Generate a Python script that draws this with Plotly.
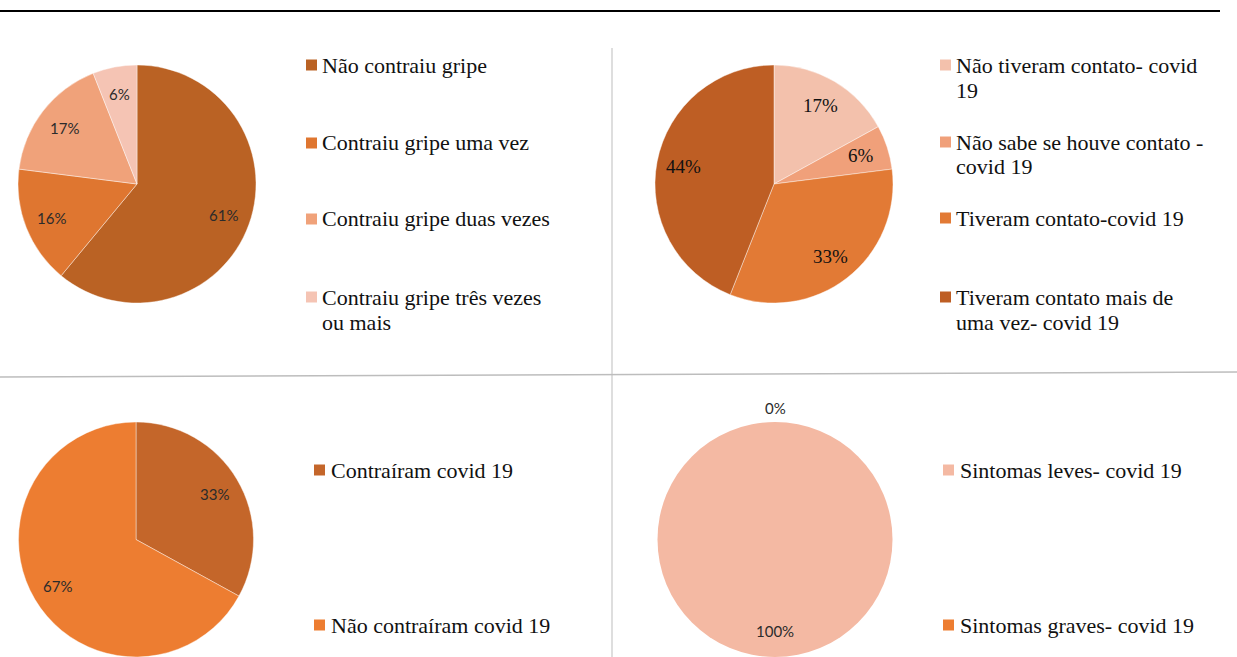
import math
import plotly.graph_objects as go

W, H = 1237, 657

# ---- data ----
gripe_labels = ["Não contraiu gripe", "Contraiu gripe uma vez",
                "Contraiu gripe duas vezes", "Contraiu gripe três vezes<br>ou mais"]
gripe_values = [61, 16, 17, 6]
gripe_colors = ["#BA6224", "#DF7630", "#F0A27A", "#F5C4B4"]

contato_labels = ["Não tiveram contato- covid<br>19", "Não sabe se houve contato -<br>covid 19",
                  "Tiveram contato-covid 19", "Tiveram contato mais de<br>uma vez- covid 19"]
contato_values = [17, 6, 33, 44]
contato_colors = ["#F3C1AC", "#F0A07A", "#E27A35", "#BE5E24"]

contraiu_labels = ["Contraíram covid 19", "Não contraíram covid 19"]
contraiu_values = [33, 67]
contraiu_colors = ["#C4662A", "#ED7D31"]

sintomas_labels = ["Sintomas leves- covid 19", "Sintomas graves- covid 19"]
sintomas_values = [100, 0]
sintomas_colors = ["#F4B9A3", "#ED7D31"]


def px(x):
    return x / W


def py(y):
    return 1 - y / H


def dom(cx, cy, r):
    return dict(x=[px(cx - r), px(cx + r)], y=[max(0, py(cy + r)), min(1, py(cy - r))])


SANS = "Lato, sans-serif"
SERIF = "Liberation Serif, Times New Roman, serif"

fig = go.Figure()
shapes = []
annotations = []


def add_pie(labels, values, colors, cx, cy, r, font, line_w=0.6):
    fig.add_trace(go.Pie(
        labels=labels, values=values, sort=False, direction="clockwise", rotation=0,
        marker=dict(colors=colors, line=dict(color="rgba(255,255,255,0.7)", width=line_w)),
        textinfo="none", showlegend=False, domain=dom(cx, cy, r),
        hoverinfo="label+percent",
    ))
    # percentage labels along each slice's middle angle
    total = sum(values)
    start = 0.0
    for v in values:
        frac = v / total
        mid = 2 * math.pi * (start + frac / 2)
        k = 0.77 * r if v > 0 else r + 14
        annotations.append(dict(
            x=px(cx + k * math.sin(mid)), y=py(cy - k * math.cos(mid)),
            xref="paper", yref="paper", text=f"{v}%", showarrow=False,
            xanchor="center", yanchor="middle", font=font))
        start += frac


add_pie(gripe_labels, gripe_values, gripe_colors, 137, 184, 119,
        dict(family=SANS, size=15, color="#2b2b2b"))
add_pie(contato_labels, contato_values, contato_colors, 774, 184, 119,
        dict(family=SERIF, size=19, color="#111111"))
add_pie(contraiu_labels, contraiu_values, contraiu_colors, 136, 540, 118,
        dict(family=SANS, size=15, color="#2b2b2b"))
add_pie(sintomas_labels, sintomas_values, sintomas_colors, 775, 540, 118,
        dict(family=SANS, size=15, color="#2b2b2b"), line_w=0)


def add_legend(labels, colors, sq_x, text_x, ys, line_gap=25):
    for lab, col, yc in zip(labels, colors, ys):
        shapes.append(dict(type="rect", xref="paper", yref="paper",
                           x0=px(sq_x), x1=px(sq_x + 11), y0=py(yc + 5.5), y1=py(yc - 5.5),
                           fillcolor=col, line=dict(width=0)))
        for i, part in enumerate(lab.split("<br>")):
            annotations.append(dict(x=px(text_x), y=py(yc + i * line_gap),
                                    xref="paper", yref="paper",
                                    xanchor="left", yanchor="middle", align="left",
                                    text=part, showarrow=False,
                                    font=dict(family=SERIF, size=22, color="#111111")))


add_legend(gripe_labels, gripe_colors, 306, 320, [65, 143, 219, 297])
add_legend(contato_labels, contato_colors, 940, 954, [65, 142, 218, 297])
add_legend(contraiu_labels, contraiu_colors, 314, 329, [470, 625])
add_legend(sintomas_labels, sintomas_colors, 943, 958, [470, 625])

# frame lines
shapes.append(dict(type="line", xref="paper", yref="paper",
                   x0=0, x1=px(1220), y0=py(11), y1=py(11),
                   line=dict(color="#000000", width=2)))
shapes.append(dict(type="line", xref="paper", yref="paper",
                   x0=px(612), x1=px(612), y0=py(48), y1=0,
                   line=dict(color="#BDBDBD", width=1)))
shapes.append(dict(type="line", xref="paper", yref="paper",
                   x0=0, x1=1, y0=py(377), y1=py(372),
                   line=dict(color="#BDBDBD", width=1.5)))

fig.update_layout(
    width=W, height=H,
    margin=dict(l=0, r=0, t=0, b=0),
    paper_bgcolor="white", plot_bgcolor="white",
    shapes=shapes, annotations=annotations,
)

fig.write_html("out.html")
